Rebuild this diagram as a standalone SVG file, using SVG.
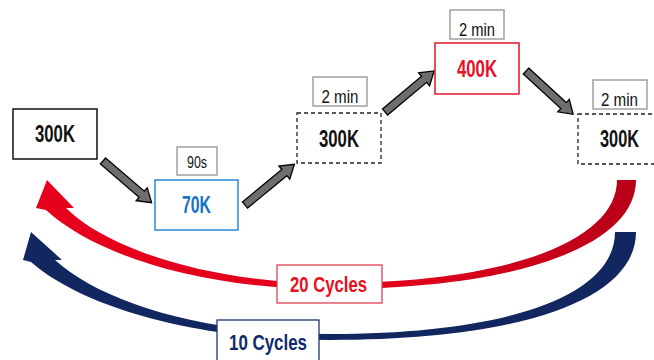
<svg xmlns="http://www.w3.org/2000/svg" width="654" height="360" viewBox="0 0 654 360">
<style>
.t{font-family:"Liberation Sans Narrow","Liberation Sans",Arial,sans-serif;font-weight:bold;text-anchor:middle}
.l{font-family:"Liberation Sans Narrow","Liberation Sans",Arial,sans-serif;text-anchor:middle;fill:#111}
.lb{fill:#fff;stroke:#a0a0a0;stroke-width:1.5}
.solid{fill:#fff;stroke:#111;stroke-width:1.5}
.dash{fill:#fff;stroke:#222;stroke-width:1.3;stroke-dasharray:4 3}
.ga{fill:#6e6e6e;stroke:#000;stroke-width:1.3;stroke-linejoin:miter}
</style>
<defs>
<path id="blk" d="M0,-4 L51,-4 L51,-8.5 L64,0 L51,8.5 L51,4 L0,4 Z"/>
<linearGradient id="rg" x1="0" y1="0" x2="1" y2="0">
<stop offset="0" stop-color="#e6001c"/>
<stop offset="0.6" stop-color="#e2001c"/>
<stop offset="1" stop-color="#b80018"/>
</linearGradient>
</defs>
<g id="connectors">
<path id="cycle20" fill="url(#rg)" d="M636,180 C636,245 520,289 330,289 C200,289 95,255 46,210 L36,208 L47,180 L74,208 L66,208 C105,247 205,283 330,283 C510,283 617,240 617,180 Z"/>
<path id="cycle10" fill="#12275f" d="M636,232 C636,300 520,340 330,340 C190,340 80,305 31,262 L23,260 L31,232 L62,260 L55,260 C100,301 200,334 330,334 C510,334 615,295 615,232 Z"/>
<use href="#blk" class="ga" transform="translate(103,161) rotate(40.6)"/>
<use href="#blk" class="ga" transform="translate(245,205) rotate(-39.5)"/>
<use href="#blk" class="ga" transform="translate(385,112) rotate(-39.9)"/>
<use href="#blk" class="ga" transform="translate(526,71) rotate(42.6)"/>
</g>
<g id="n1">
<rect class="solid" x="13" y="109" width="84" height="50"/>
<text class="t" x="55" y="142" font-size="23" textLength="40" lengthAdjust="spacingAndGlyphs" fill="#111">300K</text>
</g>
<g id="l90s">
<rect class="lb" x="177" y="147" width="40" height="28"/>
<text class="l" x="197" y="168" font-size="16" textLength="20" lengthAdjust="spacingAndGlyphs">90s</text>
</g>
<g id="n2">
<rect fill="#fff" stroke="#2a88d6" stroke-width="1.5" x="155" y="180" width="83" height="50"/>
<text class="t" x="196.5" y="213" font-size="23" textLength="29" lengthAdjust="spacingAndGlyphs" fill="#1a72c4">70K</text>
</g>
<g id="l2a">
<rect class="lb" x="313" y="77" width="54" height="29"/>
<text class="l" x="340" y="103" font-size="19" textLength="37" lengthAdjust="spacingAndGlyphs">2 min</text>
</g>
<g id="n3">
<rect class="dash" x="297" y="113" width="84" height="50"/>
<text class="t" x="339" y="147" font-size="23" textLength="40" lengthAdjust="spacingAndGlyphs" fill="#111">300K</text>
</g>
<g id="l2b">
<rect class="lb" x="450" y="10" width="54" height="29"/>
<text class="l" x="477" y="36" font-size="19" textLength="36" lengthAdjust="spacingAndGlyphs">2 min</text>
</g>
<g id="n4">
<rect fill="#fff" stroke="#e0142c" stroke-width="1.5" x="435" y="43" width="84" height="51"/>
<text class="t" x="477" y="77" font-size="23" textLength="40" lengthAdjust="spacingAndGlyphs" fill="#e8102a">400K</text>
</g>
<g id="l2c">
<rect class="lb" x="593" y="80" width="54" height="29"/>
<text class="l" x="619.5" y="106" font-size="19" textLength="37" lengthAdjust="spacingAndGlyphs">2 min</text>
</g>
<g id="n5">
<rect class="dash" x="578" y="114" width="80" height="50"/>
<text class="t" x="619.5" y="147" font-size="23" textLength="39" lengthAdjust="spacingAndGlyphs" fill="#111">300K</text>
</g>
<g id="c20">
<rect fill="#fff" stroke="#e04050" stroke-width="1.3" x="277" y="265" width="105" height="38"/>
<text class="t" x="328.5" y="292" font-size="22" textLength="77" lengthAdjust="spacingAndGlyphs" fill="#e8101e">20 Cycles</text>
</g>
<g id="c10">
<rect fill="#fff" stroke="#1d3570" stroke-width="1.3" x="217" y="320" width="102" height="45"/>
<text class="t" x="268" y="350" font-size="22" textLength="78" lengthAdjust="spacingAndGlyphs" fill="#0f2a6b">10 Cycles</text>
</g>
</svg>
